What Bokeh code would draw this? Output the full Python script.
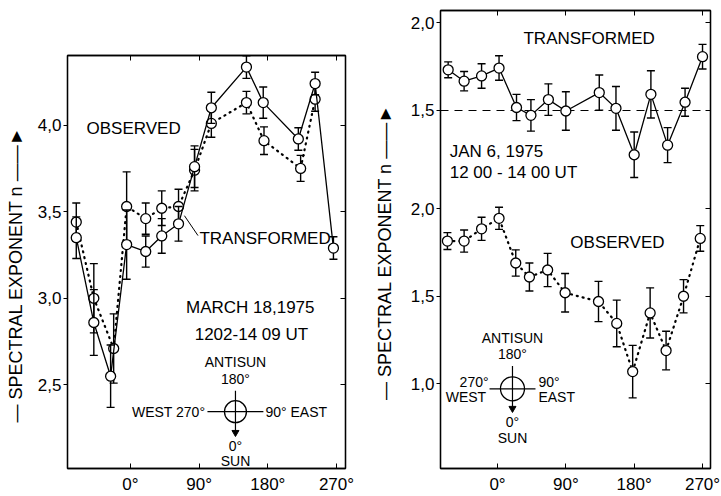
from bokeh.plotting import figure
from bokeh.layouts import row, column
from bokeh.models import Range1d, FixedTicker, LinearAxis, ColumnDataSource, Label, Spacer
from bokeh.embed import file_html
from bokeh.resources import INLINE

FONT = "Liberation Sans"

# ---------------- data: March 18, 1975 (left panel) ----------------
mar_obs_lon = [-71, -48, -22, -5, 20, 41, 63, 84, 106, 152, 175, 223, 242]
mar_obs_n = [3.44, 3.00, 2.71, 3.53, 3.46, 3.52, 3.53, 3.74, 4.01, 4.13, 3.91, 3.75, 4.15]
mar_obs_err = [0.11, 0.20, 0.20, 0.20, 0.09, 0.10, 0.10, 0.12, 0.08, 0.065, 0.08, 0.075, 0.07]

mar_tr_lon = [-71, -48, -26, -5, 20, 41, 63, 84, 106, 152, 174, 220, 242, 266]
mar_tr_n = [3.35, 2.86, 2.55, 3.31, 3.27, 3.36, 3.43, 3.76, 4.10, 4.335, 4.13, 3.92, 4.24, 3.29]
mar_tr_err = [0.12, 0.19, 0.18, 0.20, 0.09, 0.10, 0.10, 0.12, 0.09, 0.065, 0.09, 0.065, 0.065, 0.065]

# ---------------- data: Jan 6, 1975 (right panel) ----------------
jan_tr_lon = [-65, -44, -21, 2, 25, 44, 67, 90, 134, 156, 180, 202, 224, 247, 270]
jan_tr_n = [1.73, 1.665, 1.695, 1.74, 1.515, 1.47, 1.56, 1.495, 1.60, 1.51, 1.245, 1.59, 1.30, 1.545, 1.805]
jan_tr_err = [0.045, 0.055, 0.07, 0.07, 0.075, 0.09, 0.09, 0.11, 0.10, 0.125, 0.13, 0.135, 0.10, 0.08, 0.07]

jan_obs_lon = [-66, -44, -21, 2, 24, 42, 66, 89, 133, 157, 178, 201, 222, 245, 267]
jan_obs_n = [1.815, 1.815, 1.885, 1.945, 1.69, 1.61, 1.65, 1.52, 1.47, 1.345, 1.07, 1.405, 1.19, 1.50, 1.83]
jan_obs_err = [0.048, 0.063, 0.066, 0.063, 0.075, 0.08, 0.095, 0.11, 0.115, 0.133, 0.15, 0.143, 0.11, 0.095, 0.073]

x_ticks = [0, 90, 180, 270]
x_tick_labels = ["0°", "90°", "180°", "270°"]
mar_y_ticks = [2.5, 3.0, 3.5, 4.0]
mar_y_labels = ["2,5", "3,0", "3,5", "4,0"]
jan_low_ticks = [1.0, 1.5, 2.0]
jan_low_labels = ["1,0", "1,5", "2,0"]
jan_up_ticks = [1.5, 2.0]
jan_up_labels = ["1,5", "2,0"]
JAN_OFFSET = 1.0625  # vertical shift of the upper (transformed) scale

YLABEL = "—   SPECTRAL  EXPONENT  n  ——►"


def src(lon, n, err):
    return ColumnDataSource(dict(x=lon, y=n,
                                 lo=[a - e for a, e in zip(n, err)],
                                 hi=[a + e for a, e in zip(n, err)]))


def series(p, s, dotted, yname="default"):
    if dotted:
        p.line("x", "y", source=s, line_color="black", line_width=2.2,
               line_dash="1 5", line_cap="round", y_range_name=yname)
    else:
        p.line("x", "y", source=s, line_color="black", line_width=1.3,
               y_range_name=yname)
    p.segment("x", "lo", "x", "hi", source=s, line_color="black", line_width=1.4,
              y_range_name=yname)
    p.scatter("x", "lo", source=s, marker="dash", size=8, line_color="black",
              line_width=1.4, y_range_name=yname)
    p.scatter("x", "hi", source=s, marker="dash", size=8, line_color="black",
              line_width=1.4, y_range_name=yname)
    p.scatter("x", "y", source=s, marker="circle", size=10, fill_color="white",
              line_color="black", line_width=1.3, y_range_name=yname)


def style(p, yticks, yover, label_standoff):
    p.xgrid.visible = False
    p.ygrid.visible = False
    p.outline_line_color = "black"
    p.outline_line_width = 1.3
    p.background_fill_color = "white"
    p.border_fill_color = "white"
    xa = p.xaxis[0]
    xa.ticker = FixedTicker(ticks=x_ticks)
    xa.major_label_overrides = dict(zip(x_ticks, x_tick_labels))
    xa.major_tick_in = 5
    xa.major_tick_out = 0
    xa.minor_tick_line_color = None
    xa.major_label_standoff = 6
    xa.major_label_text_font = FONT
    xa.major_label_text_font_size = "17px"
    xa.major_label_text_color = "black"
    xa.axis_line_color = "black"
    xa.axis_line_width = 1.3
    ya = p.yaxis[0]
    ya.ticker = FixedTicker(ticks=yticks)
    ya.major_label_overrides = yover
    ya.major_tick_in = 0
    ya.major_tick_out = 4
    ya.minor_tick_line_color = None
    ya.major_label_standoff = 2
    ya.major_label_text_font = FONT
    ya.major_label_text_font_size = "17px"
    ya.major_label_text_color = "black"
    ya.axis_line_color = "black"
    ya.axis_line_width = 1.3
    ya.axis_label = YLABEL
    ya.axis_label_text_font = FONT
    ya.axis_label_text_font_size = "18px"
    ya.axis_label_text_font_style = "normal"
    ya.axis_label_text_color = "black"
    ya.axis_label_standoff = label_standoff
    top = LinearAxis(ticker=FixedTicker(ticks=x_ticks), major_tick_in=5, major_tick_out=0,
                     minor_tick_line_color=None, major_label_text_font_size="1px",
                     major_label_text_color=None, major_label_standoff=0,
                     axis_line_color="black", axis_line_width=1.3)
    right = LinearAxis(ticker=FixedTicker(ticks=yticks), major_tick_in=5, major_tick_out=0,
                       minor_tick_line_color=None, major_label_text_font_size="1px",
                       major_label_text_color=None, major_label_standoff=0,
                       axis_line_color="black", axis_line_width=1.3)
    p.add_layout(top, "above")
    p.add_layout(right, "right")


def label(p, x, y, t, size="17px", align="left"):
    p.add_layout(Label(x=x, y=y, text=t, text_font=FONT, text_font_size=size,
                       text_align=align, text_baseline="middle", text_color="black"))


def compass(p, cx, cy, r_px, hx0, hx1, vy0, vy1, ytip):
    p.scatter([cx], [cy], marker="circle", size=2 * r_px, fill_color=None,
              line_color="black", line_width=1.3)
    p.segment([hx0, cx], [cy, vy0], [hx1, cx], [cy, vy1], line_color="black", line_width=1.2)
    p.scatter([cx], [ytip], marker="inverted_triangle", size=7, fill_color="black",
              line_color="black")


# ---------------- left panel ----------------
p1 = figure(width=360, height=451, x_range=Range1d(-82.5, 281.8),
            y_range=Range1d(2.017, 4.402), output_backend="svg", toolbar_location=None,
            min_border_left=67, min_border_right=15, min_border_top=10, min_border_bottom=26)
style(p1, mar_y_ticks, dict(zip(mar_y_ticks, mar_y_labels)), 9)

series(p1, src(mar_obs_lon, mar_obs_n, mar_obs_err), True)
series(p1, src(mar_tr_lon, mar_tr_n, mar_tr_err), False)

label(p1, -57.6, 3.983, "OBSERVED")
label(p1, 90.4, 3.345, "TRANSFORMED")
p1.segment([70.7], [3.477], [88.5], [3.362], line_color="black", line_width=1.0)
label(p1, 157, 2.948, "MARCH 18,1975", align="center")
label(p1, 158.5, 2.793, "1202-14 09 UT", align="center")
label(p1, 137.6, 2.632, "ANTISUN", size="14px", align="center")
label(p1, 137.6, 2.534, "180°", size="14px", align="center")
label(p1, 98, 2.345, "WEST 270°", size="14px", align="right")
label(p1, 176.9, 2.345, "90° EAST", size="14px", align="left")
label(p1, 137.6, 2.149, "0°", size="14px", align="center")
label(p1, 137.6, 2.063, "SUN", size="14px", align="center")
compass(p1, 137.6, 2.345, 11, 100.9, 174.2, 2.466, 2.22, 2.225)

# ---------------- right panel ----------------
low = Range1d(0.517, 3.131)
p2 = figure(width=361, height=496, x_range=Range1d(-75.1, 280.5), y_range=low,
            output_backend="svg", toolbar_location=None,
            min_border_left=80, min_border_right=11, min_border_top=10, min_border_bottom=26)
p2.extra_y_ranges = {"upper": Range1d(low.start - JAN_OFFSET, low.end - JAN_OFFSET)}
jan_ticks = jan_low_ticks + [t + JAN_OFFSET for t in jan_up_ticks]
jan_over = dict(zip(jan_ticks, jan_low_labels + jan_up_labels))
style(p2, jan_ticks, jan_over, 13)

p2.hspan(y=[1.5], y_range_name="upper", line_color="black", line_width=1.2, line_dash="8 6")
series(p2, src(jan_obs_lon, jan_obs_n, jan_obs_err), True)
series(p2, src(jan_tr_lon, jan_tr_n, jan_tr_err), False, yname="upper")

label(p2, 34.2, 2.972, "TRANSFORMED")
label(p2, -63, 2.324, "JAN 6, 1975")
label(p2, -63, 2.205, "12 00 - 14 00 UT")
label(p2, 95.9, 1.807, "OBSERVED")
label(p2, 19.7, 1.261, "ANTISUN", size="14px", align="center")
label(p2, 19.7, 1.17, "180°", size="14px", align="center")
label(p2, -11.8, 1.011, "270°", size="14px", align="right")
label(p2, -15, 0.926, "WEST", size="14px", align="right")
label(p2, 53.9, 1.011, "90°", size="14px", align="left")
label(p2, 53.9, 0.926, "EAST", size="14px", align="left")
label(p2, 19.7, 0.785, "0°", size="14px", align="center")
label(p2, 19.7, 0.69, "SUN", size="14px", align="center")
compass(p2, 19.7, 0.972, 12, -10.5, 50, 1.102, 0.855, 0.86)

layout = row(column(Spacer(width=360, height=45), p1), p2)
open("out.html", "w").write(file_html(layout, INLINE))
